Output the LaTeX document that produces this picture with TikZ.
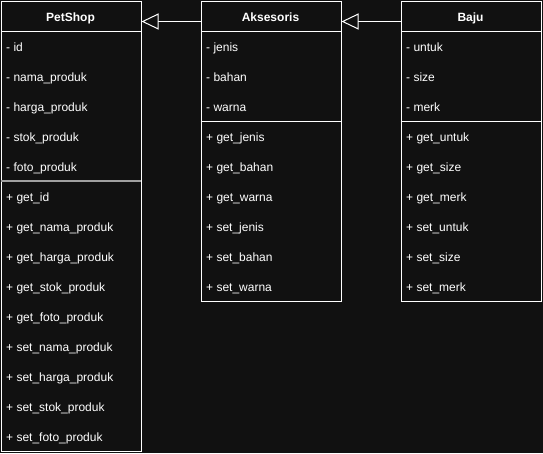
\documentclass[tikz,border=0pt]{standalone}
\usepackage{fontspec}
\setmainfont{Liberation Sans}
\usetikzlibrary{arrows.meta}
\definecolor{bg}{HTML}{111111}
\definecolor{sepgray}{HTML}{A0A0A0}
\begin{document}
\begin{tikzpicture}[x=1pt,y=-1pt,
  classbox/.style={draw=white, line width=1pt, fill=bg, minimum width=140pt, anchor=north west, inner sep=0pt},
  titlebox/.style={draw=white, line width=1pt, minimum width=140pt, minimum height=30pt, anchor=north west, inner sep=0pt},
  titletext/.style={anchor=base, inner sep=0pt, text=white, font=\fontsize{12}{14}\selectfont\bfseries},
  rowtext/.style={anchor=base west, inner sep=0pt, text=white, font=\fontsize{12}{14}\selectfont},
  inherit/.style={draw=white, line width=1pt, -{Triangle[open, length=17pt, width=16pt, line width=1pt]}}
]
\fill[bg] (0,0) rectangle (543,453);
\useasboundingbox (0,0) rectangle (543,453);

% PetShop
\node[classbox, minimum height=450pt] (pet) at (0.5,1) {};
\node[titlebox] (pett) at (0.5,1) {};
\node[titletext] (pettx) at (70.5,21.5) {PetShop};
\draw[sepgray, line width=1.6pt] (0.5,181) -- (140.5,181);
\foreach \t [count=\i from 0] in {- id,- nama\_produk,- harga\_produk,- stok\_produk,- foto\_produk,+ get\_id,+ get\_nama\_produk,+ get\_harga\_produk,+ get\_stok\_produk,+ get\_foto\_produk,+ set\_nama\_produk,+ set\_harga\_produk,+ set\_stok\_produk,+ set\_foto\_produk}
  \node[rowtext] (petr\i) at (6,51.5+30*\i) {\t};

% Aksesoris
\node[classbox, minimum height=300pt] (aks) at (200.5,1) {};
\node[titlebox] (akst) at (200.5,1) {};
\node[titletext] (akstx) at (270.5,21.5) {Aksesoris};
\draw[white, line width=1pt] (200.5,121) -- (340.5,121);
\foreach \t [count=\i from 0] in {- jenis,- bahan,- warna,+ get\_jenis,+ get\_bahan,+ get\_warna,+ set\_jenis,+ set\_bahan,+ set\_warna}
  \node[rowtext] (aksr\i) at (206,51.5+30*\i) {\t};

% Baju
\node[classbox, minimum height=300pt] (baju) at (400.5,1) {};
\node[titlebox] (bajut) at (400.5,1) {};
\node[titletext] (bajutx) at (470.5,21.5) {Baju};
\draw[white, line width=1pt] (400.5,121) -- (540.5,121);
\foreach \t [count=\i from 0] in {- untuk,- size,- merk,+ get\_untuk,+ get\_size,+ get\_merk,+ set\_untuk,+ set\_size,+ set\_merk}
  \node[rowtext] (bajur\i) at (406,51.5+30*\i) {\t};

% inheritance arrows
\draw[inherit] ([yshift=-5pt]akst.west) -- ([yshift=-5pt]pett.east);
\draw[inherit] ([yshift=-5pt]bajut.west) -- ([yshift=-5pt]akst.east);
\end{tikzpicture}
\end{document}
